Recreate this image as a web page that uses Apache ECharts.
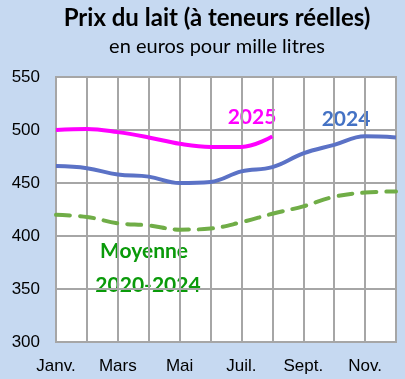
<!DOCTYPE html>
<html>
<head>
<meta charset="utf-8">
<script src="https://cdn.jsdelivr.net/npm/echarts@6/dist/echarts.min.js"></script>
<style>
html,body{margin:0;padding:0;background:#c6d9f1;}
#c{width:405px;height:379px;}
</style>
</head>
<body>
<div id="c"></div>
<script>
const months = ['Janv.','Févr.','Mars','Avr.','Mai','Juin','Juil.','Août','Sept.','Oct.','Nov.','Déc.'];
const prix2025 = [500, 501, 498, 493, 487, 484, 484, 494];
const prix2024 = [466, 464, 458, 456, 450, 451, 461, 465, 478, 486, 494, 493];
const moyenne2020_2024 = [420, 418, 412, 410, 406, 407, 413, 421, 428, 437, 441, 442];
const yTicks = [300, 350, 400, 450, 500, 550];

const chart = echarts.init(document.getElementById('c'), null, {renderer:'canvas'});
const grid = '#a6a6a6';
chart.setOption({
  backgroundColor: '#c6d9f1',
  animation: false,
  title: [
    {text: 'Prix du lait (à teneurs réelles)', left: 212, top: 1, textAlign: 'center',
     textStyle: {fontFamily: 'Lato', fontWeight: 'bold', fontSize: 24, color: '#000'}},
    {text: 'en euros pour mille litres', left: 212, top: 32, textAlign: 'center',
     textStyle: {fontFamily: 'Lato', fontWeight: 'normal', fontSize: 20, color: '#000'}}
  ],
  grid: {left: 56, right: 9, top: 77, bottom: 37, show: true, backgroundColor: '#fff',
         borderColor: grid, borderWidth: 2, outerBoundsMode: 'none'},
  xAxis: {
    type: 'category', data: months, boundaryGap: false,
    axisLine: {show: false}, axisTick: {show: false},
    axisLabel: {interval: 1, fontFamily: 'Liberation Sans', fontSize: 17, color: '#000', margin: 16},
    splitLine: {show: true, interval: 0, lineStyle: {color: grid, width: 2}}
  },
  yAxis: {
    type: 'value', min: yTicks[0], max: yTicks[yTicks.length-1], interval: 50,
    axisLine: {show: false}, axisTick: {show: false},
    axisLabel: {fontFamily: 'Liberation Sans', fontSize: 17, color: '#000', margin: 16},
    splitLine: {show: true, lineStyle: {color: grid, width: 2}}
  },
  series: [
    {name: 'Moyenne 2020-2024', type: 'line', data: moyenne2020_2024, smooth: 0.4, symbol: 'none',
     lineStyle: {color: '#70ad47', width: 4, type: [14, 10], cap: 'round'}},
    {name: '2024', type: 'line', data: prix2024, smooth: 0.4, symbol: 'none',
     lineStyle: {color: '#5b72c6', width: 4}},
    {name: '2025', type: 'line', data: prix2025, smooth: 0.4, symbol: 'none',
     lineStyle: {color: '#ff00ff', width: 4}}
  ],
  graphic: [
    {type: 'text', x: 252, y: 117, style: {text: '2025', fill: '#ff00ff', font: 'bold 21px Lato', align: 'center', verticalAlign: 'middle'}},
    {type: 'text', x: 346, y: 119, style: {text: '2024', fill: '#4472c4', font: 'bold 21px Lato', align: 'center', verticalAlign: 'middle'}},
    {type: 'text', x: 144, y: 251, style: {text: 'Moyenne', fill: '#0a9a0a', font: 'bold 21px Lato', align: 'center', verticalAlign: 'middle'}},
    {type: 'text', x: 148, y: 285, style: {text: '2020-2024', fill: '#0a9a0a', font: 'bold 21px Lato', align: 'center', verticalAlign: 'middle'}}
  ]
});
</script>
</body>
</html>
